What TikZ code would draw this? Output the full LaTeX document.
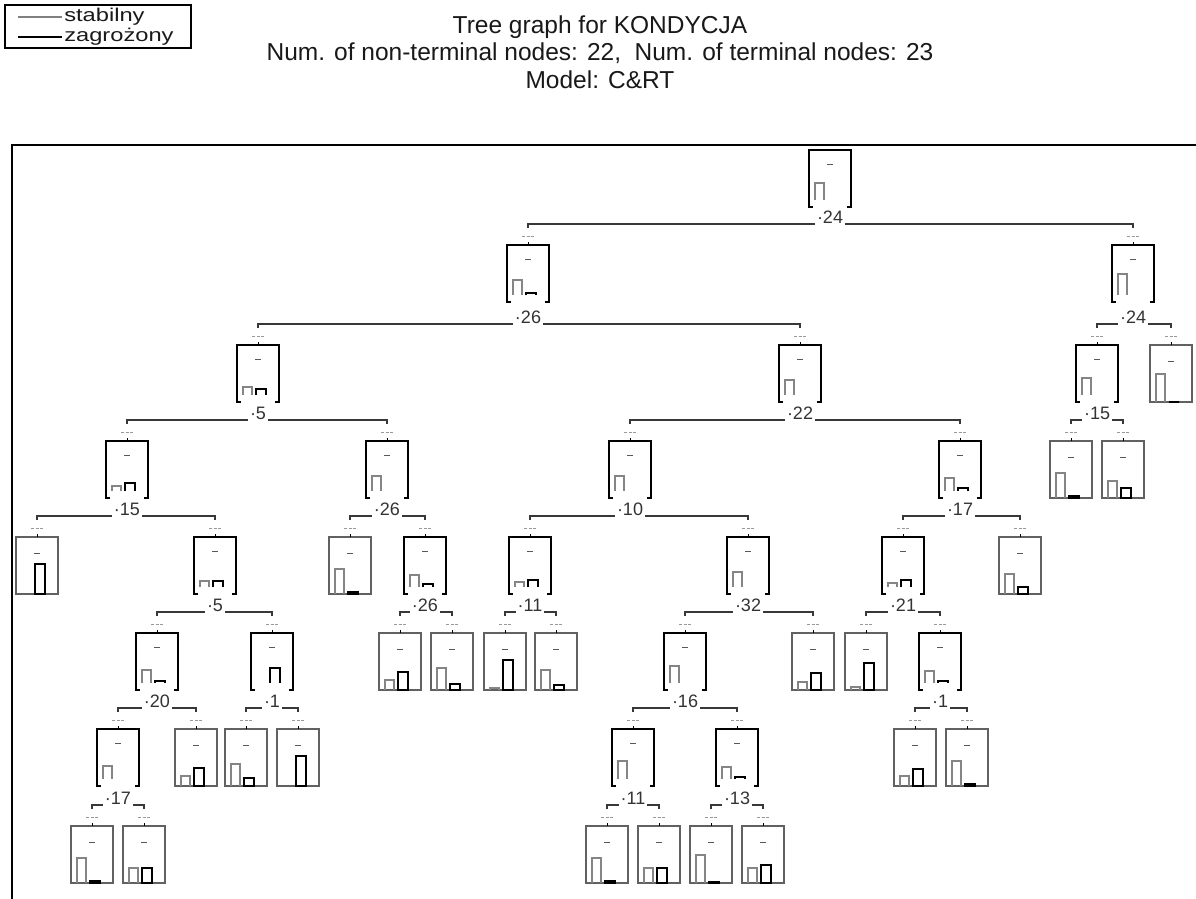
\documentclass[tikz,border=0pt]{standalone}
\usepackage{fontspec}
\setmainfont{Liberation Sans}
\newcommand{\NT}[5]{%
  \node[nbox] (#1) at ({#2},{#3+28.5}) {};
  \draw[ntl] ([xshift=4pt]#1.south west) -- (#1.south west) -- (#1.north west) -- (#1.north east) -- (#1.south east) -- ([xshift=-4pt]#1.south east);
  \draw[idash] ([shift={(-3,15)}]#1.north) -- ++(6,0);
  \ifdim #4pt>0pt \draw[gbar] ([shift={(-15,-7)}]#1.south) -- ++(0,-#4) -- ++(9,0) -- ++(0,#4);\fi
  \ifdim #5pt>0pt \draw[bbar] ([shift={(-2,-7)}]#1.south) -- ++(0,-#5) -- ++(10,0) -- ++(0,#5);\fi
}
\newcommand{\LF}[5]{%
  \node[nbox] (#1) at ({#2},{#3+28.5}) {};
  \draw[tml] (#1.south west) rectangle (#1.north east);
  \draw[idash] ([shift={(-3,17)}]#1.north) -- ++(6,0);
  \ifdim #4pt>0pt \draw[gbar] ([shift={(-15,0)}]#1.south) -- ++(0,-#4) -- ++(9,0) -- ++(0,#4);\fi
  \draw[bbar] ([shift={(-2,0)}]#1.south) -- ++(0,-#5) -- ++(10,0) -- ++(0,#5) -- cycle;
}
\newcommand{\SPL}[5]{%
  \coordinate (#1-m) at (#1.south |- 0,#5);
  \draw[conn] ([yshift=17pt]#2.north) |- (#1-m);
  \draw[conn] ([yshift=17pt]#3.north) |- (#1-m);
  \draw[tinylab] ([shift={(-6,-8)}]#2.north) -- ++(12,0);
  \draw[tinylab] ([shift={(-6,-8)}]#3.north) -- ++(12,0);
  \draw[ntl,line width=1pt] (#2.north) -- ++(0,-3);
  \draw[ntl,line width=1pt] (#3.north) -- ++(0,-3);
  \node[slab] (#1-lab) at ([yshift=7pt]#1-m) {·#4};
}
\begin{document}
\begin{tikzpicture}[x=1pt,y=-1pt,
  ntl/.style={line width=1.8pt,draw=black,line join=miter},
  tml/.style={line width=1.6pt,draw=black!62},
  gbar/.style={line width=1.6pt,draw=black!48},
  bbar/.style={line width=1.9pt,draw=black},
  conn/.style={line width=1.5pt,draw=black!78},
  slab/.style={fill=white,inner sep=2pt,font=\fontsize{18}{18}\selectfont,text=black!80},
  nbox/.style={minimum width=42pt,minimum height=57pt,inner sep=0pt,draw=none},
  idash/.style={line width=1.3pt,draw=black!65},
  tinylab/.style={line width=1pt,draw=black!40,dash pattern=on 3pt off 1.5pt},
  ttl/.style={font=\fontsize{24.5}{24.5}\selectfont,text=black!90,inner sep=0pt},
  legt/.style={font=\fontsize{18.5}{18.5}\selectfont,text=black!90,inner sep=1pt,anchor=west,xscale=1.28}
]
\useasboundingbox (0,0) rectangle (1196,899);
\fill[white] (0,0) rectangle (1196,899);
% legend
\draw[line width=1.3pt] (5,5) rectangle (191,48);
\draw[line width=1.6pt,draw=black!50] (18,17) -- (62,17) node[legt] (leg1) {stabilny};
\draw[line width=1.6pt,draw=black] (18,37) -- (62,37) node[legt] (leg2) {zagrożony};
% titles
\node[ttl] (t1) at (600,27) {Tree graph for KONDYCJA};
\node[ttl] (t2) at (600,53) {Num. of non-terminal nodes: 22,\ \ Num. of terminal nodes: 23};
\node[ttl] (t3) at (600,80) {Model: C\&RT};
% frame
\draw[line width=1.6pt] (12,899) -- (12,145) -- (1196,145);
% nodes
\NT{n0}{830}{150}{17}{0}
\NT{n1}{528}{245}{15}{2}
\NT{n2}{1133}{245}{21}{0}
\NT{n3}{258}{345}{8}{6}
\NT{n4}{800}{345}{15}{0}
\NT{n5}{1097}{345}{17}{0}
\LF{n6}{1171}{345}{28}{0}
\NT{n7}{127}{441}{5}{8}
\NT{n8}{387}{441}{15}{0}
\NT{n9}{630}{441}{15}{0}
\NT{n10}{960}{441}{13}{3}
\LF{n11}{1071}{441}{25}{2}
\LF{n12}{1123}{441}{17}{10}
\LF{n13}{37}{537}{0}{30}
\NT{n14}{215}{537}{6}{6}
\LF{n15}{350}{537}{25}{2}
\NT{n16}{425}{537}{12}{3}
\NT{n17}{530}{537}{5}{7}
\NT{n18}{748}{537}{15}{0}
\NT{n19}{903}{537}{4}{7}
\LF{n20}{1020}{537}{20}{7}
\NT{n21}{157}{633}{13}{2}
\NT{n22}{272}{633}{0}{15}
\LF{n23}{400}{633}{10}{18}
\LF{n24}{452}{633}{22}{6}
\LF{n25}{505}{633}{2}{30}
\LF{n26}{556}{633}{20}{5}
\NT{n27}{685}{633}{17}{0}
\LF{n28}{813}{633}{8}{17}
\LF{n29}{866}{633}{3}{27}
\NT{n30}{940}{633}{12}{2}
\NT{n31}{118}{729}{13}{0}
\LF{n32}{196}{729}{10}{18}
\LF{n33}{246}{729}{22}{8}
\LF{n34}{298}{729}{0}{30}
\NT{n35}{633}{729}{18}{0}
\NT{n36}{737}{729}{12}{2}
\LF{n37}{915}{729}{10}{17}
\LF{n38}{967}{729}{25}{2}
\LF{n39}{92}{826}{25}{2}
\LF{n40}{144}{826}{15}{15}
\LF{n41}{607}{826}{25}{2}
\LF{n42}{659}{826}{15}{15}
\LF{n43}{711}{826}{28}{1}
\LF{n44}{763}{826}{15}{18}
% splits
\SPL{n0}{n1}{n2}{24}{224}
\SPL{n1}{n3}{n4}{26}{324}
\SPL{n2}{n5}{n6}{24}{324}
\SPL{n3}{n7}{n8}{5}{420}
\SPL{n4}{n9}{n10}{22}{420}
\SPL{n5}{n11}{n12}{15}{420}
\SPL{n7}{n13}{n14}{15}{516}
\SPL{n8}{n15}{n16}{26}{516}
\SPL{n9}{n17}{n18}{10}{516}
\SPL{n10}{n19}{n20}{17}{516}
\SPL{n14}{n21}{n22}{5}{612}
\SPL{n16}{n23}{n24}{26}{612}
\SPL{n17}{n25}{n26}{11}{612}
\SPL{n18}{n27}{n28}{32}{612}
\SPL{n19}{n29}{n30}{21}{612}
\SPL{n21}{n31}{n32}{20}{708}
\SPL{n22}{n33}{n34}{1}{708}
\SPL{n27}{n35}{n36}{16}{708}
\SPL{n30}{n37}{n38}{1}{708}
\SPL{n31}{n39}{n40}{17}{805}
\SPL{n35}{n41}{n42}{11}{805}
\SPL{n36}{n43}{n44}{13}{805}
\end{tikzpicture}
\end{document}
